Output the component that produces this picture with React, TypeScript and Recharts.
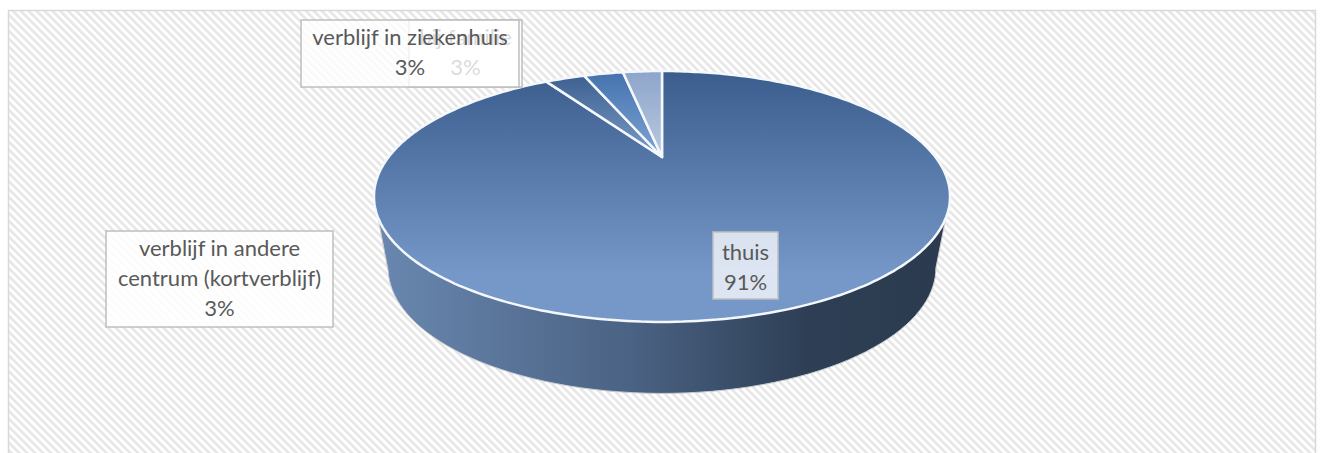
import React from "react";
import { PieChart, Pie, Cell } from "recharts";

const WIDTH = 1321;
const HEIGHT = 453;

const categories = ["thuis", "verblijf in andere centrum (kortverblijf)", "bij familie", "verblijf in ziekenhuis"];
const percentages = [91, 3, 3, 3];
const labelLines = [["thuis"], ["verblijf in andere", "centrum (kortverblijf)"], ["bij familie"], ["verblijf in ziekenhuis"]];

// label box per slice: left, top, width, height, first baseline offset
const labelBoxes = [
  [713, 232, 65, 67, 28],
  [106, 231, 227, 96, 25],
  [409, 20, 113, 67, 25],
  [301, 20, 218, 67, 25],
];
const labelFills = ["rgba(255,255,255,0.75)", "rgba(255,255,255,0.85)", "rgba(255,255,255,0.8)", "rgba(255,255,255,0.78)"];

const sliceStops = [
  ["#3b5d8d", "#7698c8"],
  ["#3b5d8d", "#7a9cc9"],
  ["#4472ae", "#7fa3d4"],
  ["#8ea5cb", "#b9c9e0"],
];

const data = categories.map((name, i) => ({ name, value: percentages[i] }));

// Tilted disc: maps a pie angle (degrees clockwise from 12 o'clock) to the screen
const TIP_X = 662;
const TIP_Y = 157;
const SCALE_X = 273.4;
const SCALE_Y = 113;
const TILT = 0.3147;
const WALL_DROP = 71.5;
const WALL_SHRINK = 0.951;

const rim = (deg: number) => {
  const t = (deg * Math.PI) / 180;
  const w = 1 + TILT * Math.cos(t);
  return [TIP_X + (SCALE_X * Math.sin(t)) / w, TIP_Y - (SCALE_Y * Math.cos(t)) / w];
};

const wallBottom = (deg: number) => {
  const [x, y] = rim(deg);
  return [TIP_X + (x - TIP_X) * WALL_SHRINK, y + WALL_DROP];
};

const toPath = (pts: number[][]) => "M" + pts.map((p) => p.map((n) => n.toFixed(1)).join(",")).join("L") + "Z";

const wallPath = () => {
  const side = (Math.acos(-TILT) * 180) / Math.PI;
  const pts = [rim(side)];
  for (let d = side; d <= 360 - side; d += 2) pts.push(wallBottom(d));
  pts.push(rim(360 - side));
  return toPath(pts);
};

const sectorPath = (from: number, to: number) => {
  const pts = [[TIP_X, TIP_Y]];
  for (let d = from; d < to; d += 1) pts.push(rim(d));
  pts.push(rim(to));
  return toPath(pts);
};

function TiltedSector(props: any) {
  const { startAngle, endAngle, index } = props;
  // recharts angles run counter-clockwise from 3 o'clock
  const from = 90 - startAngle;
  const to = 90 - endAngle;
  return (
    <g>
      {index === 0 && <path d={wallPath()} fill="url(#wallFill)" stroke="#c9cdd2" strokeWidth={1} />}
      <path d={sectorPath(from, to)} fill={`url(#slice${index})`} stroke="#f4f7fb" strokeWidth={2.5} strokeLinejoin="round" />
    </g>
  );
}

function BoxLabel(props: any) {
  const { index } = props;
  const [x, y, w, h, baseline] = labelBoxes[index];
  const lines = [...labelLines[index], `${percentages[index]}%`];
  return (
    <g>
      <rect x={x} y={y} width={w} height={h} fill={labelFills[index]} stroke="#bfbfbf" strokeWidth={1.5} />
      <text x={x + w / 2} textAnchor="middle" fontFamily="Lato, sans-serif" fontSize={22} fill="#595959">
        {lines.map((line, i) => (
          <tspan key={i} x={x + w / 2} y={y + baseline + i * 30}>
            {line}
          </tspan>
        ))}
      </text>
    </g>
  );
}

export default function App() {
  return (
    <div style={{ position: "absolute", left: 0, top: 0, width: WIDTH, height: HEIGHT, background: "#fff", overflow: "hidden" }}>
      <PieChart width={WIDTH} height={HEIGHT} margin={{ top: 0, right: 0, bottom: 0, left: 0 }}>
        <defs>
          <pattern id="stripes" width="5.6" height="5.6" patternUnits="userSpaceOnUse" patternTransform="rotate(-45)">
            <rect width="5.6" height="5.6" fill="#ffffff" />
            <rect width="2.6" height="5.6" fill="#e6e6e6" />
          </pattern>
          <linearGradient id="wallFill" x1="0" y1="0" x2="1" y2="0">
            <stop offset="0" stopColor="#6a88b0" />
            <stop offset="0.45" stopColor="#4a6283" />
            <stop offset="0.75" stopColor="#2e3f55" />
            <stop offset="1" stopColor="#2b3a4e" />
          </linearGradient>
          {sliceStops.map(([top, bottom], i) => (
            <linearGradient key={i} id={`slice${i}`} gradientUnits="userSpaceOnUse" x1="0" y1="71" x2="0" y2={i === 0 ? 275 : 157}>
              <stop offset="0" stopColor={top} />
              <stop offset="1" stopColor={bottom} />
            </linearGradient>
          ))}
        </defs>
        <rect x={8.5} y={10.5} width={1307} height={460} fill="url(#stripes)" stroke="#d9d9d9" strokeWidth={1.5} />
        <Pie
          data={data}
          dataKey="value"
          nameKey="name"
          cx={TIP_X}
          cy={TIP_Y}
          outerRadius={100}
          startAngle={90}
          endAngle={-270}
          paddingAngle={0}
          shape={TiltedSector}
          label={BoxLabel}
          labelLine={false}
          isAnimationActive={false}
        >
          {data.map((d) => (
            <Cell key={d.name} />
          ))}
        </Pie>
      </PieChart>
    </div>
  );
}
